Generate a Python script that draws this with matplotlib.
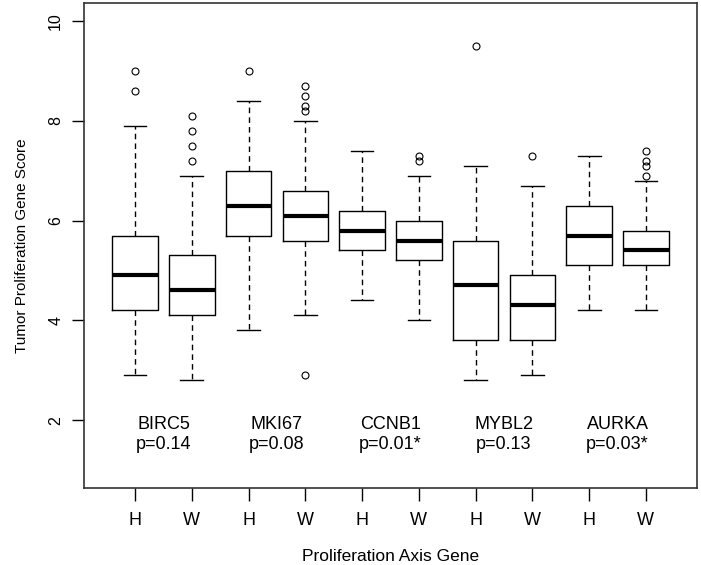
import matplotlib
matplotlib.use('Agg')
from matplotlib import pyplot as plt

plt.rcParams['font.family'] = ['Liberation Sans', 'DejaVu Sans']

genes = ['BIRC5', 'MKI67', 'CCNB1', 'MYBL2', 'AURKA']
pvals = ['p=0.14', 'p=0.08', 'p=0.01*', 'p=0.13', 'p=0.03*']
groups = ['H', 'W'] * 5

# box stats, one entry per box (H, W for each gene)
whislo = [2.9, 2.8, 3.8, 4.1, 4.4, 4.0, 2.8, 2.9, 4.2, 4.2]
q1 = [4.2, 4.1, 5.7, 5.6, 5.4, 5.2, 3.6, 3.6, 5.1, 5.1]
med = [4.9, 4.6, 6.3, 6.1, 5.8, 5.6, 4.7, 4.3, 5.7, 5.4]
q3 = [5.7, 5.3, 7.0, 6.6, 6.2, 6.0, 5.6, 4.9, 6.3, 5.8]
whishi = [7.9, 6.9, 8.4, 8.0, 7.4, 6.9, 7.1, 6.7, 7.3, 6.8]
fliers = [
    [9.0, 8.6],
    [8.1, 7.8, 7.5, 7.2],
    [9.0],
    [8.7, 8.5, 8.3, 8.2, 2.9],
    [],
    [7.3, 7.2],
    [9.5],
    [7.3],
    [],
    [7.4, 7.2, 7.1, 6.9],
]

stats = []
for i in range(len(groups)):
    stats.append({'whislo': whislo[i], 'q1': q1[i], 'med': med[i], 'q3': q3[i],
                  'whishi': whishi[i], 'fliers': fliers[i], 'label': groups[i]})

fig = plt.figure(figsize=(7.01, 5.65), dpi=100)
ax = fig.add_axes([0.1198, 0.1363, 0.8745, 0.8584])

pos = list(range(1, len(groups) + 1))
ax.bxp(stats, positions=pos, widths=0.8,
       boxprops=dict(color='black', linewidth=1.0),
       medianprops=dict(color='black', linewidth=3.0),
       whiskerprops=dict(color='black', linewidth=1.0, linestyle=(0, (4, 3))),
       capprops=dict(color='black', linewidth=1.0),
       capwidths=0.4,
       flierprops=dict(marker='o', markerfacecolor='none', markeredgecolor='black',
                       markersize=5, markeredgewidth=0.8))

for k in range(len(genes)):
    x = 2 * k + 1.5
    ax.text(x, 1.92, genes[k], ha='center', va='center', fontsize=13)
    ax.text(x, 1.52, pvals[k], ha='center', va='center', fontsize=13)

ax.set_xlim(0.1, 10.9)
ax.set_ylim(0.64, 10.36)
ax.set_yticks([2, 4, 6, 8, 10])
ax.set_yticklabels(['2', '4', '6', '8', '10'], rotation=90, va='center')
ax.set_xticks(pos)
ax.set_xticklabels(groups)
ax.tick_params(axis='both', direction='out', length=9, width=1, pad=6)
ax.tick_params(axis='y', labelsize=11.5)
ax.tick_params(axis='x', labelsize=13, pad=8)
for s in ax.spines.values():
    s.set_linewidth(1.2)
    s.set_color('#333333')

ax.set_xlabel('Proliferation Axis Gene', fontsize=12.5, labelpad=15)
ax.set_ylabel('Tumor Proliferation Gene Score', fontsize=11, labelpad=14)

fig.savefig('out.png', dpi=100)
